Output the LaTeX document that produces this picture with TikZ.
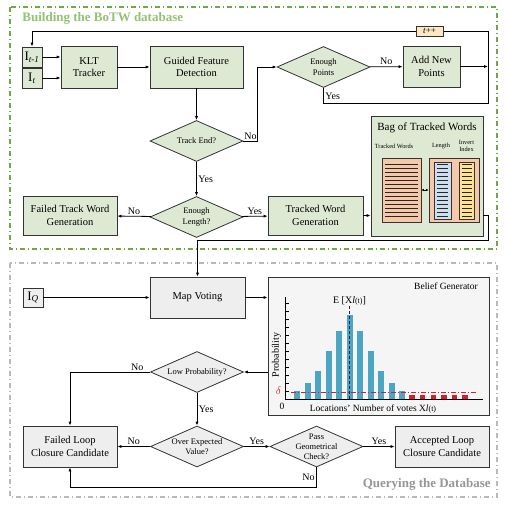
\documentclass[tikz,border=0pt]{standalone}
\usepackage{fontspec}
\setmainfont{Liberation Serif}
\usetikzlibrary{shapes.geometric,arrows.meta}

\definecolor{boxgreen}{RGB}{222,233,212}
\definecolor{framegreen}{RGB}{112,168,72}
\definecolor{titlegreen}{RGB}{146,194,116}
\definecolor{framegray}{RGB}{185,185,185}
\definecolor{titlegray}{RGB}{150,150,150}
\definecolor{boxgray}{RGB}{238,238,238}
\definecolor{tagorange}{RGB}{253,232,196}
\definecolor{wordsalmon}{RGB}{247,199,170}
\definecolor{lenblue}{RGB}{205,222,238}
\definecolor{idxyellow}{RGB}{255,226,140}
\definecolor{barblue}{RGB}{75,165,195}
\definecolor{deltared}{RGB}{210,30,45}
\definecolor{meanblue}{RGB}{20,40,70}

\begin{document}
\begin{tikzpicture}[x=1pt, y=-1pt, >={Latex[length=4pt,width=3.2pt]}, line width=0.8pt,
    box/.style={draw=black!80, fill=boxgreen, align=center, inner sep=1pt, font=\fontsize{10.5}{12.5}\selectfont},
    graybox/.style={box, fill=boxgray},
    decision/.style={diamond, draw=black!80, fill=boxgreen, aspect=2.27, minimum width=93pt, minimum height=41pt, inner sep=-1pt, align=center, font=\fontsize{8.5}{10.5}\selectfont},
    imgbox/.style={draw=black!80, fill=boxgreen, minimum width=20pt, minimum height=20pt, inner sep=0pt, font=\fontsize{13}{13}\selectfont},
    lbl/.style={font=\fontsize{10}{12}\selectfont, inner sep=1.5pt},
    frametitle/.style={font=\fontsize{13}{15}\selectfont\bfseries, inner sep=0pt},
    small/.style={font=\fontsize{6.3}{6.8}\selectfont, inner sep=0pt, align=center}]
    \useasboundingbox (0,0) rectangle (504,508);

    % frames
    \draw[framegreen, line width=1.1pt, dash pattern=on 5pt off 3pt on 1pt off 3pt] (10,7) rectangle (497,249);
    \draw[framegray, line width=1.1pt, dash pattern=on 5pt off 3pt on 1pt off 3pt] (10,263) rectangle (497,497);
    \node[frametitle, titlegreen, anchor=west] (buildtitle) at (22,18) {Building the BoTW database};
    \node[frametitle, titlegray, anchor=east] (querytitle) at (491,484) {Querying the Database};

    % building the database
    \node[imgbox] (prev) at (32,57) {I\textsubscript{\textit{t-1}}};
    \node[imgbox] (cur) at (32,78) {I\textsubscript{\textit{t}}};
    \node[box, minimum width=56pt, minimum height=42pt] (klt) at (89,67) {KLT\\Tracker};
    \node[box, minimum width=93pt, minimum height=42pt] (guided) at (196.5,67) {Guided Feature\\Detection};
    \node[decision] (trackend) at (196.5,141) {Track End?};
    \node[decision] (enoughpts) at (323.5,67) {Enough\\Points};
    \node[box, minimum width=57pt, minimum height=41pt] (addnew) at (431.5,66.5) {Add New\\Points};
    \node[decision] (enoughlen) at (196.5,217) {Enough\\Length?};
    \node[box, minimum width=94pt, minimum height=39pt] (failtrack) at (70,215.5) {Failed Track Word\\Generation};
    \node[box, minimum width=95pt, minimum height=39pt] (trackgen) at (315.5,215.5) {Tracked Word\\Generation};
    \coordinate (fbtop) at (488,31);

    \draw[->] (prev.east) -- (prev.east -| klt.west);
    \draw[->] (cur.east) -- (cur.east -| klt.west);
    \draw[->] (klt) -- (guided);
    \draw[->] (guided) -- (trackend);
    \draw[->] (trackend.east) -- node[lbl, above] (notrack) {No} ++(14,0) |- (enoughpts.west);
    \draw[->] (enoughpts) -- node[lbl, above] (nopts) {No} (addnew);
    \draw[->] (addnew.east) -- (addnew.east -| fbtop);
    \draw[->] (enoughpts.south) -- node[lbl, right, pos=0.5] (yespts) {Yes} ++(0,16) -| (fbtop) -| (prev.north);
    \node[draw=black!80, fill=tagorange, minimum width=27pt, minimum height=10pt, inner sep=0pt, font=\fontsize{9}{10}\selectfont] (tplus) at (429.5,31) {\textit{t}++};
    \draw[->] (trackend) -- node[lbl, right] (yestrack) {Yes} (enoughlen);
    \draw[->] (enoughlen) -- node[lbl, above] (nolen) {No} (failtrack);
    \draw[->] (enoughlen) -- node[lbl, above] (yeslen) {Yes} (trackgen);

    % bag of tracked words
    \node[draw=black!80, fill=boxgreen, minimum width=112pt, minimum height=120pt, inner sep=0pt] (bag) at (427,176) {};
    \node[font=\fontsize{11}{12}\selectfont, inner sep=0pt] (bagtitle) at (427,128) {Bag of Tracked Words};
    \node[small] (wordshead) at (394,146) {Tracked Words};
    \node[small] (lenhead) at (441,146) {Length};
    \node[small] (idxhead) at (466.5,146) {Invert\\Index};
    \node[draw=black!80, fill=wordsalmon, minimum width=39pt, minimum height=64pt, inner sep=0pt] (words) at (401.5,190) {};
    \node[draw=black!80, fill=wordsalmon, minimum width=50pt, minimum height=64pt, inner sep=0pt] (outer) at (454,190) {};
    \node[draw=black!80, fill=lenblue, minimum width=17pt, minimum height=57pt, inner sep=0pt] (len) at (442.5,190.5) {};
    \node[draw=black!80, fill=idxyellow, minimum width=15pt, minimum height=57pt, inner sep=0pt] (idx) at (466.5,190.5) {};
    \foreach \y in {164,168,...,218} {
        \draw[line width=0.7pt, black!85] (385,\y) -- (418,\y);
        \draw[line width=0.7pt, black!85] (437,\y) -- (448,\y);
        \draw[line width=0.7pt, black!85] (461.5,\y) -- (471.5,\y);
    }
    \draw[<->, >={Latex[length=2.5pt,width=2.5pt]}, line width=0.6pt] (words.east) -- (outer.west);
    \draw[->] (trackgen) -- (trackgen -| bag.west);

    % querying the database
    \node[imgbox, fill=boxgray, minimum height=19pt] (iq) at (33,297.5) {I\textsubscript{\textit{Q}}};
    \node[graybox, minimum width=95pt, minimum height=41pt] (mapvote) at (197.5,297.5) {Map Voting};
    \draw[->] (bag.east |- trackgen.east) -- ++(5,0) -- ++(0,25) -| (mapvote.north);
    \draw[->] (iq) -- (mapvote);

    \node[draw=black!80, fill=black!4, minimum width=221pt, minimum height=138pt, inner sep=0pt] (belief) at (378.5,346) {};
    \node[font=\fontsize{9.5}{11}\selectfont, inner sep=0pt] (belieftitle) at (446,286) {Belief Generator};
    \draw[->] (mapvote) -- (mapvote -| belief.west);

    % the histogram
    \foreach \bx/\by in {297.3/391, 307.8/383, 318.3/371, 328.8/351, 339.3/331, 349.8/315, 360.3/331, 370.8/351, 381.3/371, 391.8/383, 402.3/391}
        \fill[barblue] ({\bx-3},\by) rectangle ({\bx+3},399);
    \foreach \bx in {412,422.5,433.5,444,454.5,465}
        \fill[deltared] ({\bx-2.8},394.5) rectangle ({\bx+2.8},399);
    \draw[deltared, line width=0.9pt, dash pattern=on 5pt off 2pt on 1pt off 2pt] (291,392) -- (478,392);
    \draw[meanblue, line width=1.3pt, dash pattern=on 3pt off 2pt] (349.8,306) -- (349.8,399);
    \draw[line width=0.8pt] (285,297) -- (285,399) -- (483,399);
    \foreach \ty in {303,311,...,391}
        \draw[line width=0.6pt] (285,\ty) -- (289,\ty);
    \node[font=\fontsize{10}{11}\selectfont, inner sep=0pt, rotate=90] (problbl) at (276.5,355) {Probability};
    \node[font=\fontsize{11}{11}\selectfont, text=deltared, inner sep=0pt] (deltalbl) at (278.5,391) {$\delta$};
    \node[font=\fontsize{9.5}{10}\selectfont, inner sep=0pt] (zerolbl) at (282,406) {0};
    \node[font=\fontsize{10}{11}\selectfont, inner sep=0pt] (meanlbl) at (349.5,301) {E [X\textit{l}{\fontsize{8}{9}\selectfont(t)}]};
    \node[font=\fontsize{9.5}{11}\selectfont, inner sep=0pt] (axislbl) at (373,409) {Locations' Number of votes X\textit{l}{\fontsize{8}{9}\selectfont(t)}};

    \node[decision, fill=boxgray] (lowprob) at (197,372) {Low Probability?};
    \node[graybox, minimum width=94pt, minimum height=41pt] (failloop) at (70,446.5) {Failed Loop\\Closure Candidate};
    \node[decision, fill=boxgray] (overexp) at (197,446.5) {Over Expected\\Value?};
    \node[decision, fill=boxgray, inner sep=-3.5pt, font=\fontsize{8.5}{10}\selectfont] (passgeo) at (316.5,446.5) {Pass\\Geometrical\\Check?};
    \node[graybox, minimum width=94pt, minimum height=41pt] (accepted) at (442,446.5) {Accepted Loop\\Closure Candidate};

    \draw[->] (belief.west |- lowprob) -- (lowprob.east);
    \draw[->] (lowprob.west) -| node[lbl, above, pos=0.08] (nolow) {No} (failloop.north);
    \draw[->] (lowprob) -- node[lbl, right] (yeslow) {Yes} (overexp);
    \draw[->] (overexp) -- node[lbl, above] (noover) {No} (failloop);
    \draw[->] (overexp) -- node[lbl, above] (yesover) {Yes} (passgeo);
    \draw[->] (passgeo) -- node[lbl, above] (yespass) {Yes} (accepted);
    \draw[->] (passgeo.south) -- node[lbl, left] (nopass) {No} ++(0,20) -| (failloop.south);

\end{tikzpicture}
\end{document}
